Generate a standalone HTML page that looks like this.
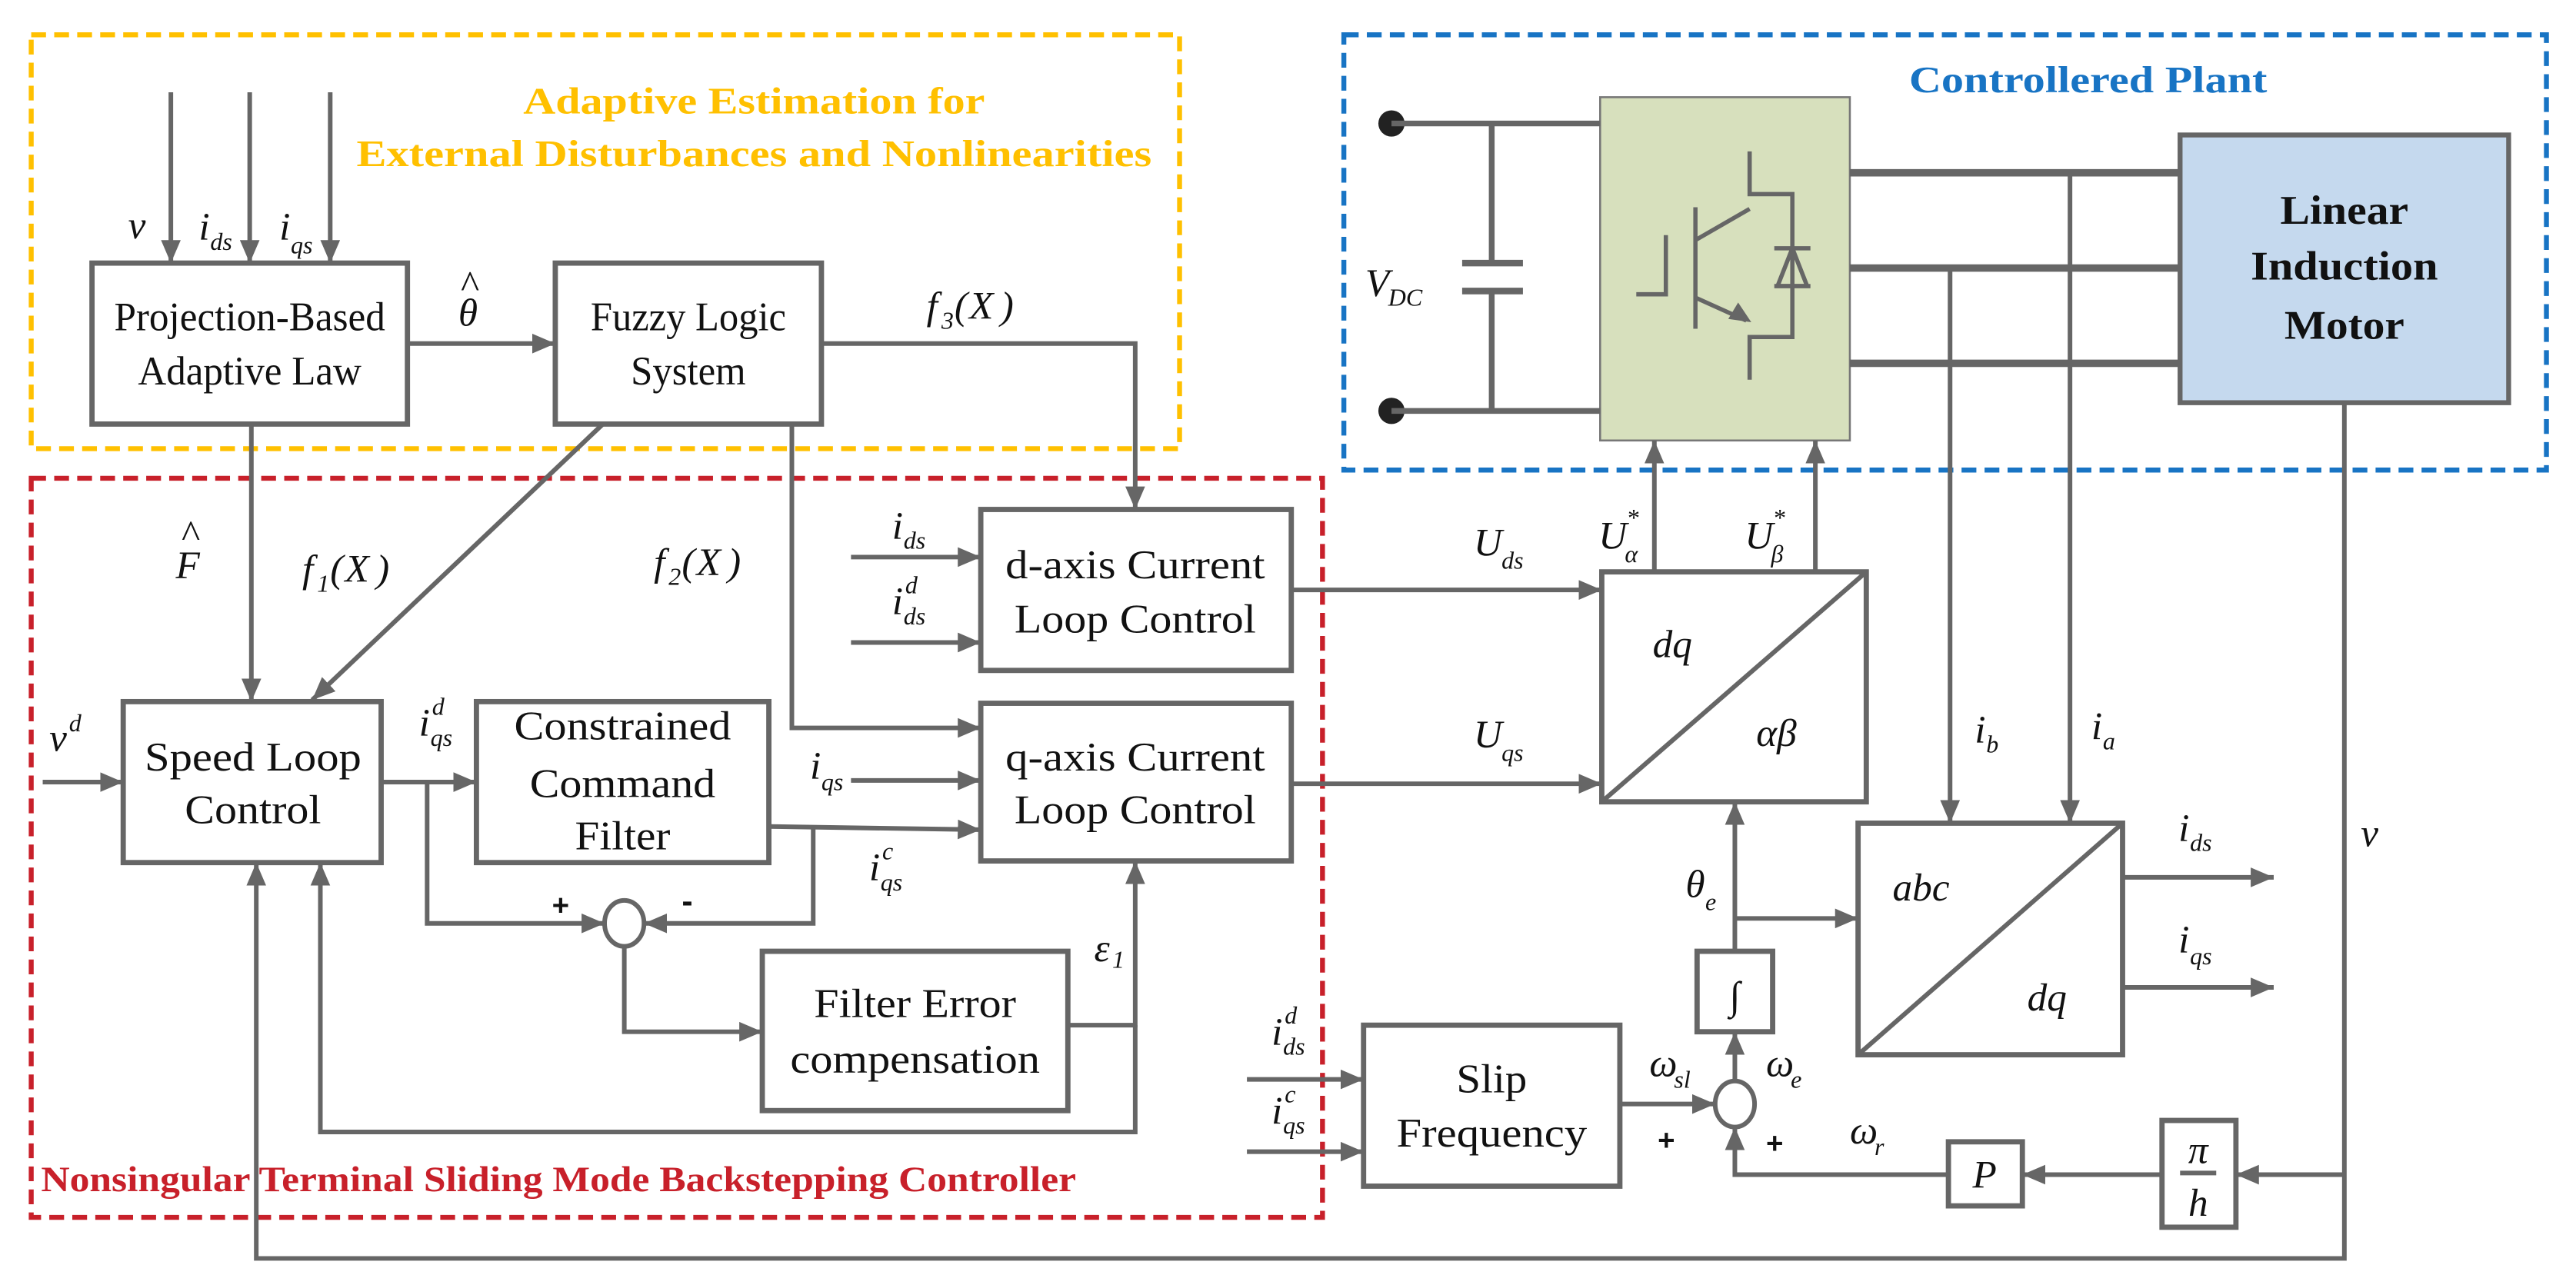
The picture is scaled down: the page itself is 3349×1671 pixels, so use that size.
<!DOCTYPE html>
<html><head><meta charset="utf-8"><style>
html,body{margin:0;padding:0;background:#fff}
svg{display:block}
.t{font-family:"Liberation Serif",serif;font-size:25px;fill:#111;text-anchor:middle}
.m{font-family:"Liberation Serif",serif;font-style:italic;font-size:24px;fill:#111}
.s{font-family:"Liberation Serif",serif;font-style:italic;font-size:15px;fill:#111}
.b{font-family:"Liberation Serif",serif;font-weight:bold}
.ln{stroke:#666;stroke-width:2.8;fill:none}
.bx{stroke:#666;stroke-width:3.2;fill:none}
</style></head><body>
<svg width="3349" height="1671" viewBox="0 0 1568 782" xmlns="http://www.w3.org/2000/svg">
<defs><marker id="a" markerUnits="userSpaceOnUse" markerWidth="14" markerHeight="12" refX="14" refY="6" orient="auto"><path d="M0,0 L14,6 L0,12 z" fill="#666"/></marker></defs>
<rect width="1568" height="782" fill="#fff"/>
<rect x="19" y="21" width="699" height="252" fill="none" stroke="#FFC000" stroke-width="3" stroke-dasharray="9,5"/>
<rect x="818" y="21" width="732" height="265" fill="none" stroke="#1874C4" stroke-width="3" stroke-dasharray="9,5"/>
<rect x="19" y="291" width="786" height="450" fill="none" stroke="#C8202A" stroke-width="3" stroke-dasharray="9,5"/>
<text class="b" x="459" y="69" font-size="23" fill="#FFC000" text-anchor="middle" textLength="281" lengthAdjust="spacingAndGlyphs">Adaptive Estimation for</text>
<text class="b" x="459" y="101" font-size="23" fill="#FFC000" text-anchor="middle" textLength="484" lengthAdjust="spacingAndGlyphs">External Disturbances and Nonlinearities</text>
<text class="b" x="1271" y="56" font-size="23" fill="#1874C4" text-anchor="middle" textLength="218" lengthAdjust="spacingAndGlyphs">Controllered Plant</text>
<text class="b" x="25" y="725" font-size="22" fill="#C8202A" textLength="630" lengthAdjust="spacingAndGlyphs">Nonsingular Terminal Sliding Mode Backstepping Controller</text>

<rect class="bx" x="56" y="160" width="192" height="98"/>
<text class="t" x="152" y="201" textLength="165" lengthAdjust="spacingAndGlyphs">Projection-Based</text>
<text class="t" x="152" y="234" textLength="136" lengthAdjust="spacingAndGlyphs">Adaptive Law</text>
<rect class="bx" x="338" y="160" width="162" height="98"/>
<text class="t" x="419" y="201" textLength="119" lengthAdjust="spacingAndGlyphs">Fuzzy Logic</text>
<text class="t" x="419" y="234" textLength="70" lengthAdjust="spacingAndGlyphs">System</text>
<rect class="bx" x="597" y="310" width="189" height="98"/>
<text class="t" x="691" y="352" textLength="158" lengthAdjust="spacingAndGlyphs">d-axis Current</text>
<text class="t" x="691" y="385" textLength="147" lengthAdjust="spacingAndGlyphs">Loop Control</text>
<rect class="bx" x="597" y="428" width="189" height="96"/>
<text class="t" x="691" y="469" textLength="158" lengthAdjust="spacingAndGlyphs">q-axis Current</text>
<text class="t" x="691" y="501" textLength="147" lengthAdjust="spacingAndGlyphs">Loop Control</text>
<rect class="bx" x="75" y="427" width="157" height="98"/>
<text class="t" x="154" y="469" textLength="132" lengthAdjust="spacingAndGlyphs">Speed Loop</text>
<text class="t" x="154" y="501" textLength="83" lengthAdjust="spacingAndGlyphs">Control</text>
<rect class="bx" x="290" y="427" width="178" height="98"/>
<text class="t" x="379" y="450" textLength="132" lengthAdjust="spacingAndGlyphs">Constrained</text>
<text class="t" x="379" y="485" textLength="113" lengthAdjust="spacingAndGlyphs">Command</text>
<text class="t" x="379" y="517" textLength="58" lengthAdjust="spacingAndGlyphs">Filter</text>
<rect class="bx" x="464" y="579" width="186" height="97"/>
<text class="t" x="557" y="619" textLength="123" lengthAdjust="spacingAndGlyphs">Filter Error</text>
<text class="t" x="557" y="653" textLength="152" lengthAdjust="spacingAndGlyphs">compensation</text>
<rect class="bx" x="830" y="624" width="156" height="98"/>
<text class="t" x="908" y="665" textLength="43" lengthAdjust="spacingAndGlyphs">Slip</text>
<text class="t" x="908" y="698" textLength="116" lengthAdjust="spacingAndGlyphs">Frequency</text>
<rect class="bx" x="975" y="348" width="161" height="140"/>
<line class="ln" x1="975" y1="488" x2="1136" y2="348"/>
<rect class="bx" x="1131" y="501" width="161" height="141"/>
<line class="ln" x1="1131" y1="642" x2="1292" y2="501"/>
<rect class="bx" x="1033" y="579" width="46" height="49"/>
<text class="m" x="1056" y="614" text-anchor="middle" font-size="28">∫</text>
<rect class="bx" x="1186" y="695" width="45" height="39"/>
<text class="m" x="1208" y="723" text-anchor="middle">P</text>
<rect class="bx" x="1316" y="682" width="45" height="65"/>
<text class="m" x="1338" y="708" text-anchor="middle">π</text>
<line class="ln" x1="1327" y1="714" x2="1349" y2="714"/>
<text class="m" x="1338" y="740" text-anchor="middle">h</text>
<ellipse class="ln" cx="380" cy="562" rx="12" ry="14"/>
<ellipse class="ln" cx="1056" cy="672" rx="12" ry="14"/>

<rect x="974" y="59" width="152" height="209" fill="#D7E0BD" stroke="#777" stroke-width="1.2"/>
<rect x="1327" y="82" width="200" height="163" fill="#C5D9EE" stroke="#666" stroke-width="3"/>
<text class="t b" x="1427" y="136" textLength="78" lengthAdjust="spacingAndGlyphs">Linear</text>
<text class="t b" x="1427" y="170" textLength="114" lengthAdjust="spacingAndGlyphs">Induction</text>
<text class="t b" x="1427" y="206" textLength="73" lengthAdjust="spacingAndGlyphs">Motor</text>
<ellipse cx="847" cy="75" rx="8" ry="8" fill="#222"/>
<ellipse cx="847" cy="250" rx="8" ry="8" fill="#222"/>
<g stroke="#666" stroke-width="3.5" fill="none">
<line x1="847" y1="75" x2="974" y2="75"/><line x1="847" y1="250" x2="974" y2="250"/>
<line x1="908" y1="75" x2="908" y2="160"/><line x1="908" y1="177" x2="908" y2="250"/>
<line x1="890" y1="160" x2="927" y2="160" stroke-width="4"/><line x1="890" y1="177" x2="927" y2="177" stroke-width="4"/>
<line x1="1126" y1="105" x2="1327" y2="105" stroke-width="4.5"/>
<line x1="1126" y1="163" x2="1327" y2="163" stroke-width="4.5"/>
<line x1="1126" y1="221" x2="1327" y2="221" stroke-width="4.5"/>
</g>
<g stroke="#666" stroke-width="2.6" fill="none">
<polyline points="1065,92 1065,118 1091,118 1091,205 1065,205 1065,231"/>
<line x1="1032" y1="126" x2="1032" y2="200"/>
<polyline points="1014,143 1014,179 996,179"/>
<line x1="1065" y1="127" x2="1032" y2="146"/>
<line x1="1032" y1="181" x2="1063" y2="195"/>
<line x1="1080" y1="151" x2="1102" y2="151"/>
<polygon points="1091,151 1082,174 1100,174"/>
<line x1="1080" y1="174" x2="1102" y2="174"/>
</g>
<polygon points="1066,196 1052,194 1058,184" fill="#666"/>
<text class="m" x="831" y="180">V</text><text class="s" x="845" y="186">DC</text>

<g class="ln" marker-end="url(#a)">
<line x1="104" y1="56" x2="104" y2="160"/>
<line x1="152" y1="56" x2="152" y2="160"/>
<line x1="201" y1="56" x2="201" y2="160"/>
<line x1="248" y1="209" x2="338" y2="209"/>
<polyline points="500,209 691,209 691,310"/>
<line x1="153" y1="258" x2="153" y2="427"/>
<line x1="367" y1="258" x2="190" y2="426"/>
<polyline points="482,258 482,443 597,443"/>
<line x1="518" y1="339" x2="597" y2="339"/>
<line x1="518" y1="391" x2="597" y2="391"/>
<line x1="26" y1="476" x2="75" y2="476"/>
<line x1="232" y1="476" x2="290" y2="476"/>
<line x1="518" y1="475" x2="597" y2="475"/>
<polyline points="468,503 597,505"/>
<polyline points="260,476 260,562 368,562"/>
<polyline points="495,504 495,562 392,562"/>
<polyline points="380,576 380,628 464,628"/>
<polyline points="650,624 691,624 691,524"/>
<polyline points="691,624 691,689 195,689 195,525"/>
<polyline points="1427,245 1427,766 156,766 156,525"/>
<line x1="786" y1="359" x2="975" y2="359"/>
<line x1="786" y1="477" x2="975" y2="477"/>
<line x1="1007" y1="348" x2="1007" y2="268"/>
<line x1="1105" y1="348" x2="1105" y2="268"/>
<line x1="1187" y1="163" x2="1187" y2="501"/>
<line x1="1260" y1="105" x2="1260" y2="501"/>
<line x1="1292" y1="534" x2="1384" y2="534"/>
<line x1="1292" y1="601" x2="1384" y2="601"/>
<line x1="1056" y1="579" x2="1056" y2="488"/>
<line x1="1056" y1="559" x2="1131" y2="559"/>
<line x1="1056" y1="658" x2="1056" y2="628"/>
<line x1="986" y1="672" x2="1044" y2="672"/>
<line x1="1427" y1="715" x2="1361" y2="715"/>
<line x1="1316" y1="715" x2="1231" y2="715"/>
<polyline points="1186,715 1056,715 1056,686"/>
<line x1="759" y1="657" x2="830" y2="657"/>
<line x1="759" y1="701" x2="830" y2="701"/>
</g>

<text class="m" x="78" y="145">v</text>
<text class="m" x="121" y="146">i</text><text class="s" x="128" y="152">ds</text>
<text class="m" x="170" y="146">i</text><text class="s" x="177" y="154">qs</text>
<text class="m" x="279" y="198">θ</text><text class="m" x="280" y="181" font-size="16">^</text>
<text class="m" x="564" y="194">f</text><text class="s" x="573" y="200">3</text><text class="m" x="581" y="194" font-style="normal">(</text><text class="m" x="590" y="194">X</text><text class="m" x="609" y="194" font-style="normal">)</text>
<text class="m" x="107" y="352">F</text><text class="m" x="110" y="333" font-size="16">^</text>
<text class="m" x="184" y="354">f</text><text class="s" x="193" y="360">1</text><text class="m" x="201" y="354" font-style="normal">(</text><text class="m" x="210" y="354">X</text><text class="m" x="229" y="354" font-style="normal">)</text>
<text class="m" x="398" y="350">f</text><text class="s" x="407" y="356">2</text><text class="m" x="415" y="350" font-style="normal">(</text><text class="m" x="424" y="350">X</text><text class="m" x="443" y="350" font-style="normal">)</text>
<text class="m" x="543" y="328">i</text><text class="s" x="550" y="334">ds</text>
<text class="m" x="543" y="374">i</text><text class="s" x="550" y="380">ds</text><text class="s" x="551" y="361">d</text>
<text class="m" x="30" y="457">v</text><text class="s" x="42" y="445">d</text>
<text class="m" x="255" y="448">i</text><text class="s" x="262" y="454">qs</text><text class="s" x="263" y="435">d</text>
<text class="m" x="493" y="474">i</text><text class="s" x="500" y="481">qs</text>
<text class="m" x="529" y="536">i</text><text class="s" x="536" y="542">qs</text><text class="s" x="537" y="523">c</text>
<text class="m" x="666" y="585">ε</text><text class="s" x="677" y="589" font-style="normal">1</text>
<text font-family="Liberation Sans,sans-serif" font-weight="bold" font-size="18" x="336" y="557" fill="#111">+</text>
<text font-family="Liberation Sans,sans-serif" font-weight="bold" font-size="20" x="415" y="555" fill="#111">-</text>
<text class="m" x="897" y="338">U</text><text class="s" x="914" y="346">ds</text>
<text class="m" x="897" y="455">U</text><text class="s" x="914" y="463">qs</text>
<text class="m" x="973" y="334">U</text><text class="s" x="989" y="342">α</text><text class="s" x="990" y="320" font-style="normal">*</text>
<text class="m" x="1062" y="334">U</text><text class="s" x="1078" y="342">β</text><text class="s" x="1079" y="320" font-style="normal">*</text>
<text class="m" x="1006" y="400">dq</text>
<text class="m" x="1069" y="454">αβ</text>
<text class="m" x="1152" y="548">abc</text>
<text class="m" x="1234" y="615">dq</text>
<text class="m" x="1202" y="452">i</text><text class="s" x="1209" y="458">b</text>
<text class="m" x="1273" y="450">i</text><text class="s" x="1280" y="456">a</text>
<text class="m" x="1326" y="512">i</text><text class="s" x="1333" y="518">ds</text>
<text class="m" x="1326" y="580">i</text><text class="s" x="1333" y="587">qs</text>
<text class="m" x="1437" y="515">v</text>
<text class="m" x="1026" y="546">θ</text><text class="s" x="1038" y="554">e</text>
<text class="m" x="1004" y="655">ω</text><text class="s" x="1019" y="662">sl</text>
<text class="m" x="1075" y="655">ω</text><text class="s" x="1090" y="662">e</text>
<text class="m" x="1126" y="696">ω</text><text class="s" x="1141" y="703">r</text>
<text font-family="Liberation Sans,sans-serif" font-weight="bold" font-size="18" x="1009" y="700" fill="#111">+</text>
<text font-family="Liberation Sans,sans-serif" font-weight="bold" font-size="18" x="1075" y="702" fill="#111">+</text>
<text class="m" x="774" y="636">i</text><text class="s" x="781" y="642">ds</text><text class="s" x="782" y="623">d</text>
<text class="m" x="774" y="684">i</text><text class="s" x="781" y="690">qs</text><text class="s" x="782" y="671">c</text>
</svg>
</body></html>
